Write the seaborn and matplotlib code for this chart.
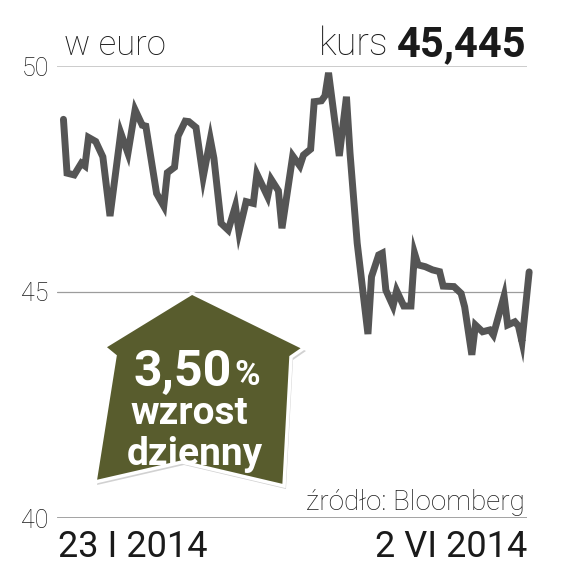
import matplotlib
matplotlib.use("Agg")
import matplotlib.pyplot as plt
import matplotlib.transforms as mtransforms
from matplotlib.patches import Polygon
import seaborn as sns
import pandas as pd

# data (days since 23 I 2014, close in euro)
day_offsets = [0, 1, 3, 5, 6, 7, 9, 11, 13, 16, 18, 20, 22, 23, 26, 28, 29, 31, 32, 34,
               35, 37, 39, 41, 42, 44, 46, 48, 49, 51, 53, 54, 57, 58, 60, 61, 64, 66, 67, 69,
               70, 72, 73, 74, 77, 79, 80, 82, 85, 86, 88, 89, 90, 92, 93, 95, 97, 98, 99, 101,
               103, 105, 106, 109, 111, 112, 114, 115, 117, 119, 120, 123, 124, 126, 127, 128, 130]
prices = [48.82, 47.63, 47.59, 47.85, 47.79, 48.42, 48.33, 47.99, 46.68, 48.52,
          48.07, 49.03, 48.69, 48.67, 47.18, 46.90, 47.64, 47.76, 48.45, 48.78,
          48.77, 48.64, 47.54, 48.38, 47.96, 46.52, 46.37, 46.90, 46.33, 47.00,
          46.96, 47.61, 47.11, 47.49, 47.24, 46.41, 48.01, 47.79, 48.03, 48.16,
          49.21, 49.23, 49.34, 49.85, 48.01, 49.32, 48.07, 46.08, 44.07, 45.34,
          45.82, 45.86, 45.04, 44.69, 45.03, 44.69, 44.69, 45.86, 45.60, 45.56,
          45.49, 45.45, 45.13, 45.12, 44.97, 44.67, 43.61, 44.27, 44.12, 44.16,
          44.05, 44.91, 44.27, 44.34, 44.25, 43.90, 45.445]
y_ticks = [40, 45, 50]
y_tick_labels = ["40", "45", "50"]
start_label = "23 I 2014"
end_label = "2 VI 2014"
change_label = "3,50"

df = pd.DataFrame({"day": day_offsets, "price": prices})

sns.set_theme(style="white")
plt.rcParams["font.family"] = ["Roboto", "DejaVu Sans"]

fig = plt.figure(figsize=(5.65, 5.67), dpi=100)
fig.patch.set_facecolor("white")

# pixel coords -> figure
px = mtransforms.Affine2D().scale(1 / 565, -1 / 567).translate(0, 1) + fig.transFigure

ax = fig.add_axes([57 / 565, 1 - 518 / 567, 470 / 565, 452 / 567])
ax.axhline(50, color="#c8c8c8", lw=1.3, zorder=1)
ax.axhline(45, color="#9c9c9c", lw=0.9, zorder=1)
ax.axhline(40, color="#888888", lw=1.8, zorder=1)

sns.lineplot(data=df, x="day", y="price", ax=ax, color="#555555", lw=5,
             solid_joinstyle="miter", zorder=3, clip_on=False)

ax.set_xlim(-1.8, 129.4)
ax.set_ylim(40, 50)
ax.set_xticks([])
ax.set_yticks(y_ticks)
ax.set_yticklabels(y_tick_labels, fontsize=18, color="#1a1a1a", fontweight="light")
ax.tick_params(axis="y", length=0, pad=6)
ax.set_xlabel("")
ax.set_ylabel("")
for s in ax.spines.values():
    s.set_visible(False)
ax.patch.set_alpha(0)

# header
fig.text(64, 55, "w euro", transform=px, fontsize=25, fontweight="light", color="#1a1a1a")
fig.text(388, 55, "kurs", transform=px, fontsize=27, fontweight="light", color="#1a1a1a", ha="right")
fig.text(527, 56, "45,445", transform=px, fontsize=30, fontweight="bold",
         color="#1a1a1a", ha="right")

# arrow badge
arrow_pts = [(192, 293), (304, 348), (291, 357), (284, 486), (182, 462),
             (95, 482), (115, 356), (104, 347)]
shadow = Polygon([(x + 2, y + 3) for x, y in arrow_pts], closed=True, transform=px,
                 facecolor="#000000", alpha=0.18, edgecolor="none", zorder=4)
badge = Polygon(arrow_pts, closed=True, transform=px, facecolor="#585c2d",
                edgecolor="white", lw=2.5, joinstyle="miter", zorder=5)
fig.add_artist(shadow)
fig.add_artist(badge)
fig.text(232, 386, change_label, transform=px, fontsize=36, fontweight="bold",
         color="white", ha="right", zorder=6)
fig.text(234, 385, "%", transform=px, fontsize=25, fontweight="bold",
         color="white", ha="left", zorder=6)
fig.text(189, 424, "wzrost", transform=px, fontsize=28, fontweight="bold",
         color="white", ha="center", zorder=6)
fig.text(195, 465, "dzienny", transform=px, fontsize=28, fontweight="bold",
         color="white", ha="center", zorder=6)

# footer
fig.text(525, 510, "źródło: Bloomberg", transform=px, fontsize=20, fontweight="light",
         color="#1a1a1a", ha="right")
fig.text(58, 557, start_label, transform=px, fontsize=26, fontweight="normal", color="#1a1a1a")
fig.text(527, 557, end_label, transform=px, fontsize=26, fontweight="normal", color="#1a1a1a",
         ha="right")

fig.savefig("out.png", dpi=100)
